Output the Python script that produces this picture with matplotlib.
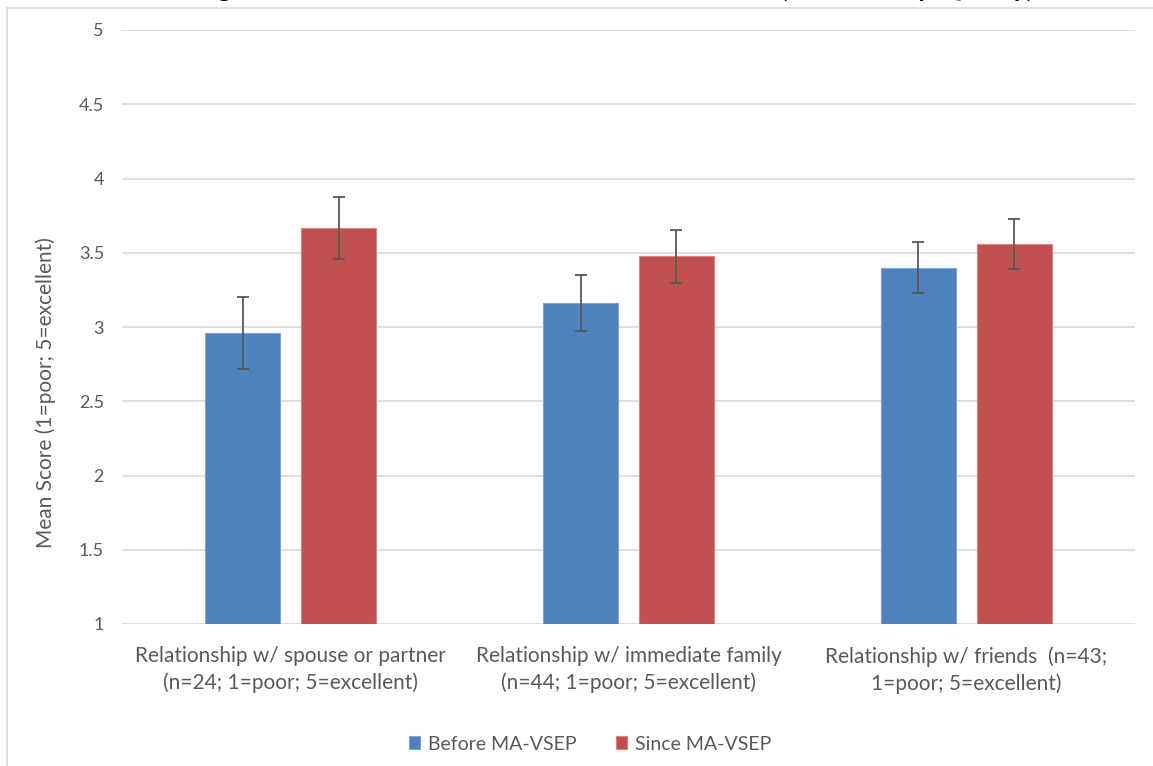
import numpy as np
import matplotlib.pyplot as plt
from matplotlib.patches import Rectangle

plt.rcParams['font.family'] = ['Lato', 'DejaVu Sans']

categories = ['Relationship w/ spouse or partner\n(n=24; 1=poor; 5=excellent)',
              'Relationship w/ immediate family\n(n=44; 1=poor; 5=excellent)',
              'Relationship w/ friends  (n=43;\n1=poor; 5=excellent)']
before = [2.96, 3.16, 3.40]
before_err = [0.245, 0.19, 0.17]
since = [3.665, 3.475, 3.56]
since_err = [0.21, 0.18, 0.17]
series_names = ['Before MA-VSEP', 'Since MA-VSEP']
yticks = [1, 1.5, 2, 2.5, 3, 3.5, 4, 4.5, 5]

blue = '#4F81BD'
red = '#C0504D'
grey_txt = '#595959'

W, H = 1153, 766
fig = plt.figure(figsize=(W / 100, H / 100), dpi=100)
ax = fig.add_axes([122 / W, 1 - 624 / H, 1013 / W, 594 / H])

x = np.arange(len(categories))
bw = 0.222
off = 0.142
ekw = dict(ecolor=grey_txt, elinewidth=1.3, capsize=4, capthick=1.3)
ax.bar(x - off, np.array(before) - 1, bw, bottom=1, color=blue, edgecolor='#7FA3D3',
       linewidth=0.8, yerr=before_err, error_kw=ekw, label=series_names[0], zorder=3)
ax.bar(x + off, np.array(since) - 1, bw, bottom=1, color=red, edgecolor='#D98381',
       linewidth=0.8, yerr=since_err, error_kw=ekw, label=series_names[1], zorder=3)

ax.set_xlim(-0.5, 2.5)
ax.set_ylim(1, 5)
ax.set_yticks(yticks)
ax.set_yticklabels([f'{v:g}' for v in yticks])
ax.yaxis.grid(True, color='#D9D9D9', linewidth=1.2, zorder=0)
ax.set_axisbelow(True)
for s in ax.spines.values():
    s.set_visible(False)
ax.tick_params(axis='both', length=0, colors=grey_txt)
ax.tick_params(axis='y', pad=13, labelsize=13)
ax.tick_params(axis='x', pad=16, labelsize=15)
ax.set_xticks(x)
ax.set_xticklabels(categories, linespacing=1.4)
ax.set_ylabel('Mean Score (1=poor; 5=excellent)', color=grey_txt, fontsize=15)
ax.yaxis.set_label_coords(-66 / 1013, 0.39)

leg = fig.legend(loc='center', bbox_to_anchor=(590 / W, 1 - 744 / H), ncol=2, frameon=False,
                 fontsize=14, handlelength=0.6, handleheight=0.6, handletextpad=0.4,
                 columnspacing=2.0)
for t in leg.get_texts():
    t.set_color(grey_txt)

# chart frame (only top/left edges fall inside the picture)
fig.patches.append(Rectangle((7 / W, -0.1), 1.2, 1 - 8 / H + 0.1, transform=fig.transFigure,
                             fill=False, edgecolor='#D9D9D9', linewidth=1.2))

# title, mostly cut off above the picture as in the source
fig.text(615 / W, 1 + 3 / H, 'Figure 7: Mean Before and Mean Since MA-VSEP (Relationship Quality)',
         ha='center', va='baseline', fontsize=19, fontweight='bold', color='black')

fig.savefig('out.png', dpi=100)
